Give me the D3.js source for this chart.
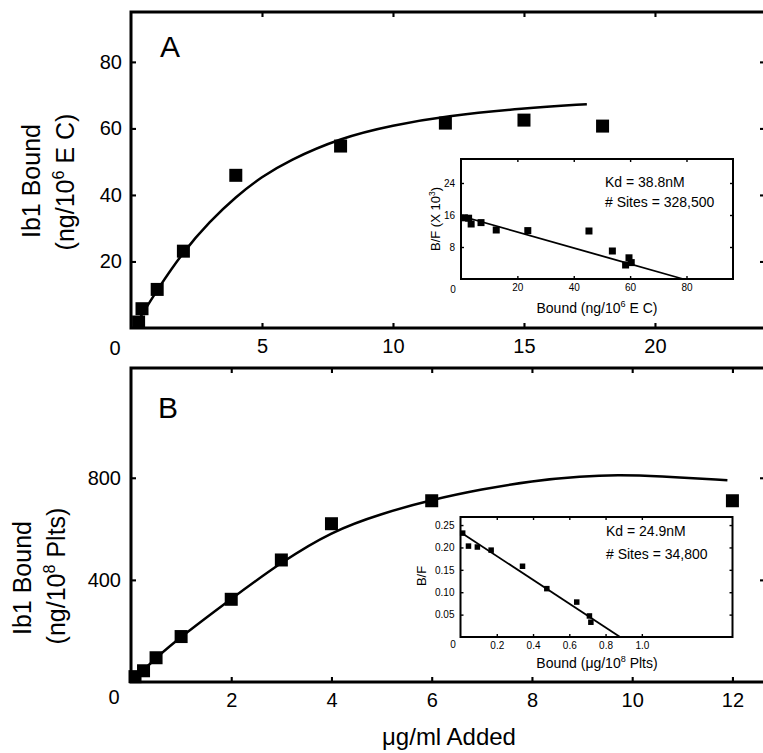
<!DOCTYPE html>
<html>
<head>
<meta charset="utf-8">
<title>Ib1 binding</title>
<script src="https://d3js.org/d3.v7.min.js"></script>
<style>
  body { margin: 0; background: #fff; }
  svg { display: block; }
  text { font-family: "Liberation Sans", Arial, Helvetica, sans-serif; fill: #000; }
</style>
</head>
<body>
<svg width="763" height="753"></svg>
<script>
// ---- panel A: endothelial cells ----
var doseA  = [0.29, 0.42, 1, 2, 4, 8, 12, 15, 18];
var boundA = [1.8, 5.8, 11.6, 23.1, 45.9, 54.7, 61.6, 62.5, 60.7];
var fitAx  = [0.3, 1, 2, 3, 4, 5, 6, 8, 10, 12, 15, 17.4];
var fitAy  = [2.5, 11.5, 23, 32, 39.5, 45.5, 50.3, 57.2, 61, 63.7, 66.1, 67.3];
var ticksAx = [5, 10, 15, 20];
var ticksAy = [20, 40, 60, 80];

// scatchard inset A
var scatAx = [1.2, 2.7, 3.6, 7.1, 12.5, 23.7, 45.4, 53.7, 59.6, 58.4, 60.4];
var scatAy = [15.3, 15.2, 13.75, 14.1, 12.25, 12.1, 12, 7, 5.3, 3.5, 4.1];
var lineAx = [0, 78.8];
var lineAy = [15.75, 0];
var insAticksX = [20, 40, 60, 80];
var insAticksY = [8, 16, 24];

// ---- panel B: platelets ----
var doseB  = [0.08, 0.25, 0.5, 1, 2, 3, 4, 6, 12];
var boundB = [21, 44, 95, 178, 324, 478, 620, 710, 710];
var fitBx  = [0.1, 0.5, 1, 2, 3, 4, 5, 6, 7, 8, 9, 9.7, 10.5, 11.9];
var fitBy  = [18, 95, 178, 326, 470, 590, 660, 714, 755, 788, 806, 811, 807, 790];
var ticksBx = [2, 4, 6, 8, 10, 12];
var ticksBy = [400, 800];

// scatchard inset B
var scatBx = [0.012, 0.044, 0.093, 0.169, 0.342, 0.476, 0.641, 0.711, 0.719];
var scatBy = [0.232, 0.203, 0.201, 0.194, 0.158, 0.108, 0.078, 0.047, 0.033];
var lineBx = [0, 0.88];
var lineBy = [0.234, 0];
var insBticksX = [0.2, 0.4, 0.6, 0.8, 1.0];
var insBticksY = [0.05, 0.10, 0.15, 0.20, 0.25];

var svg = d3.select("svg");
svg.append("rect").attr("width", 763).attr("height", 753).attr("fill", "#fff");

// text with superscript pieces: parts = [[str, isSup], ...]
function richText(g, parts, size) {
  var t = g.append("text").attr("font-size", size);
  parts.forEach(function(p, i) {
    var s = t.append("tspan").text(p[0]);
    if (p[1]) s.attr("font-size", size * 0.65).attr("dy", -size * 0.42);
    else if (i > 0 && parts[i - 1][1]) s.attr("dy", size * 0.42);
  });
  return t;
}

function frame(g, x, y, sw, inner, fmtX, fmtY, tx, ty, fs, padX, padY) {
  var x0 = x.range()[0], x1 = x.range()[1], y0 = y.range()[0], y1 = y.range()[1];
  g.append("rect").attr("x", x0).attr("y", y1).attr("width", x1 - x0).attr("height", y0 - y1)
    .attr("fill", "#fff").attr("stroke", "#000").attr("stroke-width", sw);
  var bottom = g.append("g").attr("transform", "translate(0," + y0 + ")")
    .call(d3.axisBottom(x).tickValues(tx).tickSizeInner(-inner).tickSizeOuter(0).tickPadding(padX).tickFormat(fmtX));
  var top = g.append("g").attr("transform", "translate(0," + y1 + ")")
    .call(d3.axisTop(x).tickValues(tx).tickSizeInner(-inner).tickSizeOuter(0).tickFormat(""));
  var left = g.append("g").attr("transform", "translate(" + x0 + ",0)")
    .call(d3.axisLeft(y).tickValues(ty).tickSizeInner(-inner).tickSizeOuter(0).tickPadding(padY).tickFormat(fmtY));
  var right = g.append("g").attr("transform", "translate(" + x1 + ",0)")
    .call(d3.axisRight(y).tickValues(ty).tickSizeInner(-inner).tickSizeOuter(0).tickFormat(""));
  [bottom, top, left, right].forEach(function(a) {
    a.select(".domain").remove();
    a.selectAll("line").attr("stroke", "#000").attr("stroke-width", sw * 0.7);
    a.selectAll("text").attr("font-size", fs).attr("font-family", null).attr("fill", "#000");
  });
}

function squares(g, x, y, xs, ys, size) {
  g.selectAll(null).data(xs).enter().append("rect")
    .attr("x", function(d) { return x(d) - size / 2; })
    .attr("y", function(d, i) { return y(ys[i]) - size / 2; })
    .attr("width", size).attr("height", size).attr("fill", "#000");
}

function curve(g, x, y, xs, ys, sw, c) {
  g.append("path").datum(xs)
    .attr("d", d3.line().x(function(d) { return x(d); }).y(function(d, i) { return y(ys[i]); }).curve(c))
    .attr("fill", "none").attr("stroke", "#000").attr("stroke-width", sw);
}

// ===== Panel A =====
var xA = d3.scaleLinear().domain([0, 24.2]).range([131, 765]);
var yA = d3.scaleLinear().domain([0, 95]).range([328, 12]);
var gA = svg.append("g");
frame(gA, xA, yA, 3, 5, d3.format("d"), d3.format("d"), ticksAx, ticksAy, 20, 11, 9);
curve(gA, xA, yA, fitAx, fitAy, 2.5, d3.curveBasis);
squares(gA, xA, yA, doseA, boundA, 13);
gA.append("text").attr("x", 115).attr("y", 350).attr("text-anchor", "middle")
  .attr("dominant-baseline", "middle").attr("font-size", 20).text("0");
gA.append("text").attr("x", 170).attr("y", 57).attr("text-anchor", "middle")
  .attr("font-size", 30).text("A");
gA.append("text").attr("transform", "translate(40,181) rotate(-90)")
  .attr("text-anchor", "middle").attr("font-size", 25).text("Ib1 Bound");
richText(gA, [["(ng/10", false], ["6", true], [" E C)", false]], 25)
  .attr("transform", "translate(74,182) rotate(-90)").attr("text-anchor", "middle");

// inset A
var ixA = d3.scaleLinear().domain([0, 96.5]).range([461, 733]);
var iyA = d3.scaleLinear().domain([0, 30]).range([279, 159]);
var giA = svg.append("g");
frame(giA, ixA, iyA, 2, 3, d3.format("d"), d3.format("d"), insAticksX, insAticksY, 10, 5, 6);
curve(giA, ixA, iyA, lineAx, lineAy, 1.8, d3.curveLinear);
squares(giA, ixA, iyA, scatAx, scatAy, 7);
giA.append("text").attr("x", 453).attr("y", 290).attr("text-anchor", "middle")
  .attr("dominant-baseline", "middle").attr("font-size", 10).text("0");
richText(giA, [["Bound (ng/10", false], ["6", true], [" E C)", false]], 14)
  .attr("x", 597).attr("y", 313).attr("text-anchor", "middle");
richText(giA, [["B/F (X 10", false], ["3", true], [")", false]], 13)
  .attr("transform", "translate(440,219) rotate(-90)").attr("text-anchor", "middle");
giA.append("text").attr("x", 605).attr("y", 187).attr("font-size", 14).text("Kd = 38.8nM");
giA.append("text").attr("x", 605).attr("y", 207).attr("font-size", 14).text("# Sites = 328,500");

// ===== Panel B =====
var xB = d3.scaleLinear().domain([0, 12.65]).range([131, 765]);
var yB = d3.scaleLinear().domain([0, 1230]).range([682, 368]);
var gB = svg.append("g");
frame(gB, xB, yB, 3, 5, d3.format("d"), d3.format("d"), ticksBx, ticksBy, 20, 11, 10);
curve(gB, xB, yB, fitBx, fitBy, 2.5, d3.curveBasis);
squares(gB, xB, yB, doseB, boundB, 13);
gB.append("text").attr("x", 114).attr("y", 699).attr("text-anchor", "middle")
  .attr("dominant-baseline", "middle").attr("font-size", 20).text("0");
gB.append("text").attr("x", 168).attr("y", 418).attr("text-anchor", "middle")
  .attr("font-size", 30).text("B");
gB.append("text").attr("transform", "translate(31,578) rotate(-90)")
  .attr("text-anchor", "middle").attr("font-size", 25).text("Ib1 Bound");
richText(gB, [["(ng/10", false], ["8", true], [" Plts)", false]], 25)
  .attr("transform", "translate(65,576) rotate(-90)").attr("text-anchor", "middle");
svg.append("text").attr("x", 449).attr("y", 745).attr("text-anchor", "middle")
  .attr("font-size", 24).text("\u03bcg/ml Added");

// inset B
var ixB = d3.scaleLinear().domain([0, 1.5]).range([460.5, 732.5]);
var iyB = d3.scaleLinear().domain([0, 0.268]).range([637, 517]);
var giB = svg.append("g");
frame(giB, ixB, iyB, 2, 3, d3.format(".1f"), d3.format(".2f"), insBticksX, insBticksY, 10, 5, 6);
curve(giB, ixB, iyB, lineBx, lineBy, 1.8, d3.curveLinear);
squares(giB, ixB, iyB, scatBx, scatBy, 5.5);
giB.append("text").attr("x", 453).attr("y", 645).attr("text-anchor", "middle")
  .attr("dominant-baseline", "middle").attr("font-size", 10).text("0");
richText(giB, [["Bound (\u03bcg/10", false], ["8", true], [" Plts)", false]], 14)
  .attr("x", 597).attr("y", 668).attr("text-anchor", "middle");
giB.append("text").attr("transform", "translate(426,576) rotate(-90)")
  .attr("text-anchor", "middle").attr("font-size", 13).text("B/F");
giB.append("text").attr("x", 606).attr("y", 536).attr("font-size", 14).text("Kd = 24.9nM");
giB.append("text").attr("x", 606).attr("y", 559).attr("font-size", 14).text("# Sites = 34,800");
</script>
</body>
</html>
